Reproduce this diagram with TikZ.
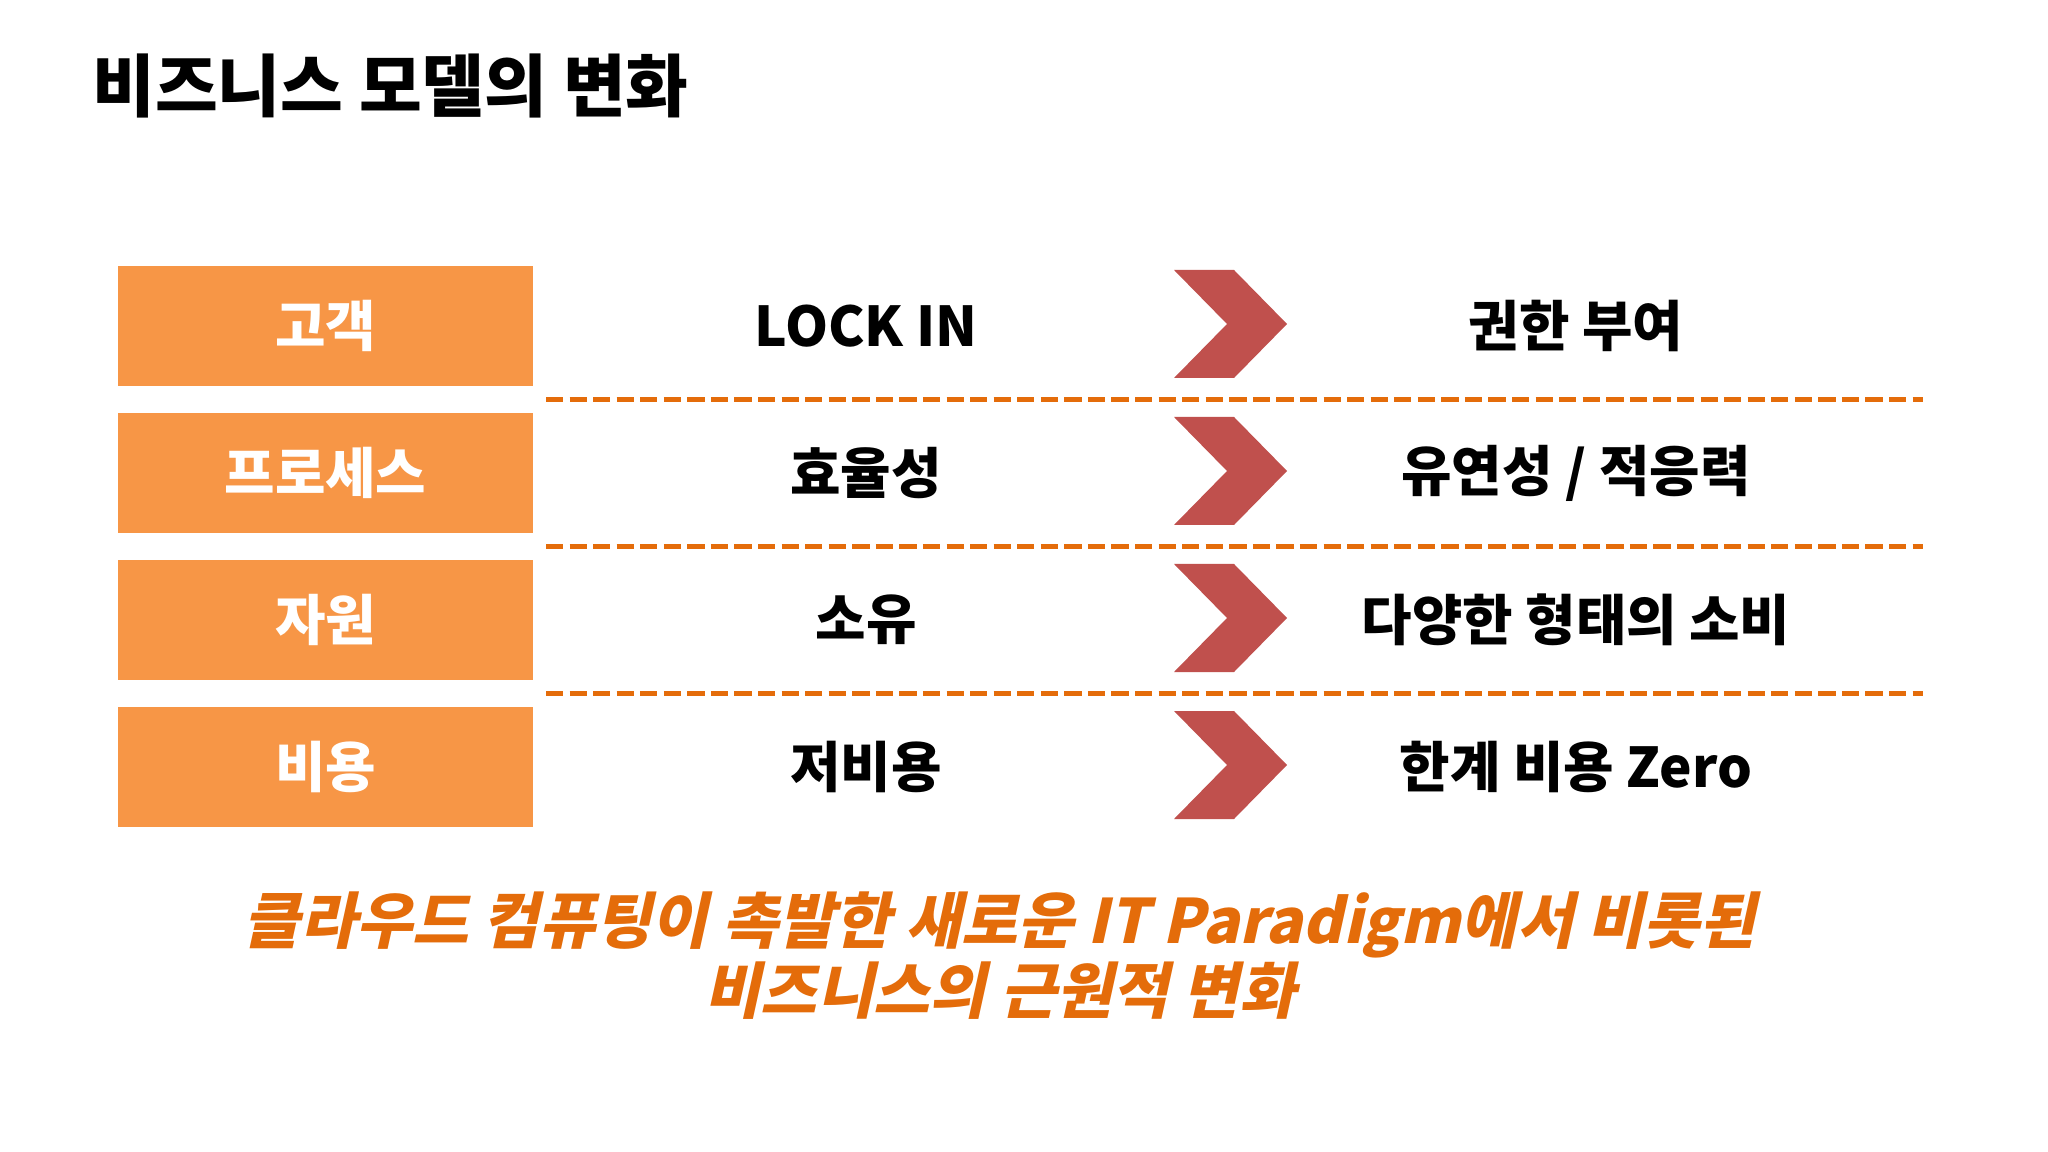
\documentclass[tikz,border=0pt]{standalone}
\usepackage{fontspec}
\setmainfont{Noto Sans CJK KR}
\newfontfamily\slantkr{Noto Sans CJK KR}[FakeSlant=0.22]
\usepackage{tikz}
\definecolor{keycolor}{RGB}{247,150,70}
\definecolor{arrowcolor}{RGB}{192,80,77}
\definecolor{linecolor}{RGB}{228,108,10}

\begin{document}
\begin{tikzpicture}[
  x=0.01cm, y=-0.01cm,
  keybox/.style={fill=keycolor, minimum width=4.15cm, minimum height=1.19cm,
    inner sep=0pt, text=white, font=\fontsize{15.6}{18}\selectfont\bfseries},
  rowtext/.style={font=\fontsize{15.6}{18}\selectfont\bfseries, text=black},
  sepline/.style={linecolor, line width=1.6pt, dash pattern=on 4.9pt off 1.8pt},
]

% ---------- common data ----------
\def\ytop{326}   % centre of first row
\def\dy{147}     % row spacing

\useasboundingbox (0,0) rectangle (2048,1152);
\fill[white] (0,0) rectangle (2048,1152);

% ---------- title ----------
\node[anchor=west, font=\fontsize{19.4}{23}\selectfont\bfseries] (title) at (80, 86)
  {비즈니스 모델의 변화};

% ---------- rows ----------
\foreach \i/\key/\old/\new in {0/고객/LOCK IN/권한 부여, 1/프로세스/효율성/{유연성 / 적응력},
    2/자원/소유/다양한 형태의 소비, 3/비용/저비용/한계 비용 Zero} {
  \pgfmathsetmacro{\yy}{\ytop+\i*\dy}
  \node[keybox] (key\i) at (325.5, \yy) {\key};
  \node[rowtext] (old\i) at (866, \yy) {\old};
  \node[rowtext] (new\i) at (1576, \yy) {\new};
  % chevron
  \fill[arrowcolor] (1174, \yy-56) -- ++(60,0) -- ++(53,54) -- ++(-53,54)
    -- ++(-60,0) -- ++(53,-54) -- cycle;
}

% dashed separators
\foreach \i in {0,1,2} {
  \draw[sepline] (546, {\ytop+\i*\dy+73.5}) -- (1923, {\ytop+\i*\dy+73.5});
}

% ---------- summary ----------
\node[align=center, text=linecolor,
  font=\fontsize{17.4}{18.8}\selectfont\slantkr\bfseries] (summary) at (1000, 956)
  {클라우드 컴퓨팅이 촉발한 새로운 IT Paradigm에서 비롯된\\비즈니스의 근원적 변화};

\end{tikzpicture}
\end{document}
